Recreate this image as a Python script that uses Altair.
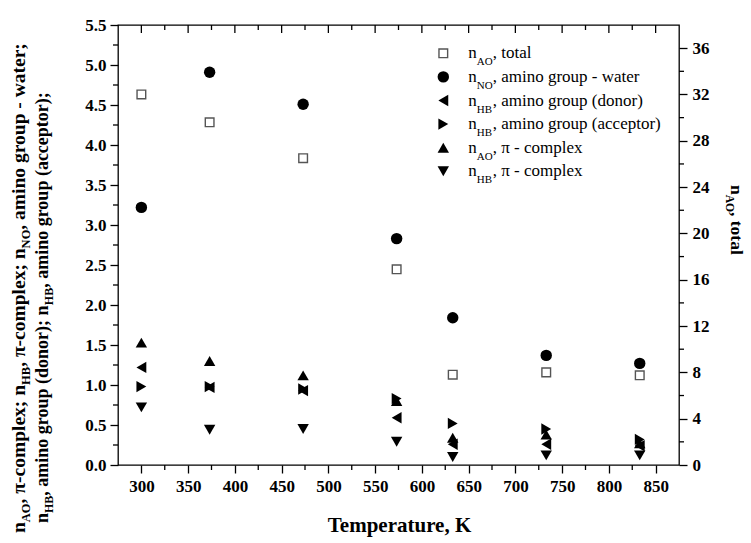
import altair as alt
import pandas as pd

# ---------------- data ----------------
temperature = [300, 373, 473, 573, 633, 733, 833]
n_ao_total = [32.0, 29.6, 26.5, 16.9, 7.8, 8.0, 7.75]          # right axis
n_no_water = [3.22, 4.91, 4.51, 2.83, 1.84, 1.37, 1.27]
n_hb_donor = [1.22, 0.97, 0.93, 0.59, 0.26, 0.26, 0.24]
n_hb_acceptor = [0.98, 0.98, 0.95, 0.83, 0.52, 0.45, 0.32]
n_ao_pi = [1.53, 1.30, 1.12, 0.80, 0.34, 0.38, 0.27]
n_hb_pi = [0.72, 0.44, 0.45, 0.29, 0.10, 0.12, 0.12]

series_keys = ["total", "water", "donor", "acceptor", "pi_ao", "pi_hb"]
series_shapes = ["square", "circle", "triangle-left", "triangle-right",
                 "triangle-up", "triangle-down"]
legend_sub = ["AO", "NO", "HB", "HB", "AO", "HB"]
legend_rest = [", total", ", amino group - water", ", amino group (donor)",
               ", amino group (acceptor)", ", \u03c0 - complex", ", \u03c0 - complex"]

x_major = list(range(300, 851, 50))
x_minor = list(range(325, 851, 50))
y_left_major = [i * 0.5 for i in range(12)]
y_left_minor = [0.25 + i * 0.5 for i in range(11)]
y_right_major = list(range(0, 37, 4))
y_right_minor = list(range(2, 37, 4))

left_title_1 = [("n", False), ("AO", True), (", \u03c0-complex; n", False), ("HB", True),
                (", \u03c0-complex; n", False), ("NO", True), (", amino group - water;", False)]
left_title_2 = [("n", False), ("HB", True), (", amino group (donor); n", False), ("HB", True),
                (", amino group (acceptor);", False)]
right_title = [("n", False), ("AO", True), (", total", False)]
x_title = "Temperature, K"

# ---------------- geometry / style ----------------
W, H = 561, 440
FONT = "Liberation Serif"

BOLD_W = {' ': 250, ',': 250, '-': 333, ';': 333, '(': 333, ')': 333, '.': 250,
          'a': 500, 'c': 444, 'd': 556, 'e': 444, 'g': 500, 'i': 278, 'l': 278,
          'm': 833, 'n': 556, 'o': 500, 'p': 556, 'r': 444, 't': 333, 'u': 556,
          'w': 722, 'x': 500, 'A': 722, 'B': 667, 'H': 778, 'N': 722, 'O': 778,
          '\u03c0': 549}


def tw(s, size):
    return sum(BOLD_W.get(c, 500) for c in s) * size / 1000.0


def segments(parts, size_main, size_sub):
    rows, off = [], 0.0
    for s, is_sub in parts:
        rows.append({"t": s, "off": off, "sub": int(is_sub)})
        off += tw(s, size_sub if is_sub else size_main)
    return pd.DataFrame(rows)


xscale = alt.Scale(domain=[275, 875], nice=False, zero=False)
yl_dom = [0, 5.5]
yr_dom = [0, 38]

axis_common = dict(title=None, labelFont=FONT, labelFontSize=17, labelFontWeight="bold",
                   labelColor="black", tickColor="black", tickWidth=1.3, tickSize=8,
                   domain=False, grid=False)
x_axis = alt.Axis(orient="bottom", values=x_major, format="d", labelPadding=5, **axis_common)


def xenc():
    return alt.X("T:Q", scale=xscale, axis=x_axis)


# ---------------- data tables ----------------
left_series = {"water": n_no_water, "donor": n_hb_donor, "acceptor": n_hb_acceptor,
               "pi_ao": n_ao_pi, "pi_hb": n_hb_pi}
rows = []
for k, vals in left_series.items():
    for t, v in zip(temperature, vals):
        rows.append({"T": t, "v": v, "key": k})
df_left = pd.DataFrame(rows)
df_total = pd.DataFrame({"T": temperature, "v": n_ao_total})

shape_scale = alt.Scale(domain=series_keys, range=series_shapes)

pts = alt.Chart(df_left).mark_point(filled=True, color="black", opacity=1, size=130).encode(
    x=xenc(),
    y=alt.Y("v:Q", scale=alt.Scale(domain=yl_dom, nice=False, zero=False),
            axis=alt.Axis(orient="left", values=y_left_major, format=".1f",
                          labelPadding=4, **axis_common)),
    shape=alt.Shape("key:N", scale=shape_scale, legend=None),
)

squares = alt.Chart(df_total).mark_point(shape="square", filled=False, color="#555555",
                                         strokeWidth=1.4, size=75, opacity=1).encode(
    x=xenc(),
    y=alt.Y("v:Q", scale=alt.Scale(domain=yr_dom, nice=False, zero=False),
            axis=alt.Axis(orient="right", values=y_right_major, format="d",
                          labelPadding=5, **axis_common)),
)

# ---------------- extra ticks (minor / top inward) ----------------
rule_style = dict(color="black", strokeWidth=1.3)
top_major = alt.Chart(pd.DataFrame({"T": x_major})).mark_rule(**rule_style).encode(
    x=xenc(), y=alt.value(0), y2=alt.value(8))
top_minor = alt.Chart(pd.DataFrame({"T": x_minor})).mark_rule(**rule_style).encode(
    x=xenc(), y=alt.value(0), y2=alt.value(5))
bottom_minor = alt.Chart(pd.DataFrame({"T": x_minor})).mark_rule(**rule_style).encode(
    x=xenc(), y=alt.value(H), y2=alt.value(H + 5))
left_minor = alt.Chart(pd.DataFrame({"v": y_left_minor})).mark_rule(**rule_style).encode(
    y=alt.Y("v:Q", scale=alt.Scale(domain=yl_dom, nice=False, zero=False), axis=None),
    x=alt.value(-5), x2=alt.value(0))
right_minor = alt.Chart(pd.DataFrame({"v": y_right_minor})).mark_rule(**rule_style).encode(
    y=alt.Y("v:Q", scale=alt.Scale(domain=yr_dom, nice=False, zero=False), axis=None),
    x=alt.value(W), x2=alt.value(W + 5))

# ---------------- legend (manual, for subscripts) ----------------
leg = pd.DataFrame({"key": series_keys, "row": list(range(6)),
                    "sub": legend_sub, "rest": legend_rest})
leg_y = alt.Y("row:Q", scale=alt.Scale(domain=[0, 5], range=[28.3, 146.3]), axis=None)
LX_SYM, LX_TXT = 325.3, 350.3

leg_filled = alt.Chart(leg).transform_filter(alt.datum.key != "total").mark_point(
    filled=True, color="black", opacity=1, size=130).encode(
    x=alt.value(LX_SYM), y=leg_y, shape=alt.Shape("key:N", scale=shape_scale, legend=None))
leg_square = alt.Chart(leg).transform_filter(alt.datum.key == "total").mark_point(
    shape="square", filled=False, color="#555555", strokeWidth=1.4, size=75, opacity=1).encode(
    x=alt.value(LX_SYM), y=leg_y)
leg_n = alt.Chart(leg).mark_text(text="n", font=FONT, fontSize=17, align="left",
                                 baseline="alphabetic", dy=5, color="black").encode(
    x=alt.value(LX_TXT), y=leg_y)
leg_sub = alt.Chart(leg).mark_text(font=FONT, fontSize=11, align="left",
                                   baseline="alphabetic", dy=12, color="black").encode(
    x=alt.value(LX_TXT + 8.5), y=leg_y, text="sub:N")
leg_rest = alt.Chart(leg).mark_text(font=FONT, fontSize=17, align="left",
                                    baseline="alphabetic", dy=5, color="black").encode(
    x=alt.value(LX_TXT + 8.5 + 15.9), y=leg_y, text="rest:N")


# ---------------- axis titles with subscripts ----------------
def rotated_title(parts, xb, y0, angle, size_main, size_sub, sub_shift):
    df = segments(parts, size_main, size_sub)
    sign = -1 if angle == 270 else 1
    df["py"] = y0 + sign * df["off"]
    layers = []
    for is_sub, size, xx in [(0, size_main, xb), (1, size_sub, xb + sub_shift)]:
        layers.append(
            alt.Chart(df).transform_filter(alt.datum.sub == is_sub).mark_text(
                font=FONT, fontSize=size, fontWeight="bold", angle=angle, align="left",
                baseline="alphabetic", color="black").encode(
                text="t:N", x=alt.value(xx),
                y=alt.Y("py:Q", scale=None, axis=None)))
    return layers


title_layers = []
title_layers += rotated_title(left_title_1, -93, 508, 270, 19.5, 12.5, 5)
title_layers += rotated_title(left_title_2, -70, 498, 270, 18, 12, 5)
title_layers += rotated_title(right_title, 613, 160, 90, 17.5, 11.5, -5)

xt = alt.Chart(pd.DataFrame({"a": [0]})).mark_text(
    text=x_title, font=FONT, fontSize=21, fontWeight="bold", align="center",
    baseline="alphabetic", color="black").encode(x=alt.value(W / 2 + 1), y=alt.value(506.5))

chart = alt.layer(
    pts, squares, top_major, top_minor, bottom_minor, left_minor, right_minor,
    leg_filled, leg_square, leg_n, leg_sub, leg_rest, xt, *title_layers
).resolve_scale(y="independent").properties(
    width=W, height=H,
    autosize=alt.AutoSizeParams(type="none"),
    padding={"left": 118, "top": 25, "right": 72, "bottom": 78},
    background="white",
).configure_view(stroke="black", strokeWidth=1.3)

chart.save("out.html", embed_options={"renderer": "svg", "actions": False})
